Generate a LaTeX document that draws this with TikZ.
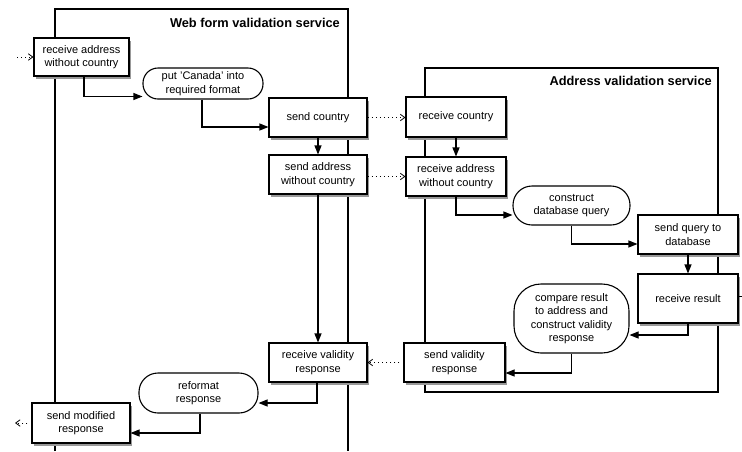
\documentclass[tikz,border=0pt]{standalone}
\usepackage{fontspec}
\setmainfont{Liberation Sans}
\usetikzlibrary{arrows.meta,calc,shadows}
\begin{document}
\begin{tikzpicture}[x=1pt,y=-1pt,
  base/.style={draw, line width=1.1pt, fill=white, align=center, inner sep=1pt,
    font=\fontsize{11}{13.5}\selectfont},
  box/.style={base, drop shadow={shadow xshift=1.5pt, shadow yshift=-3pt, fill=black!40, opacity=1}},
  rbox/.style={base},
  flow/.style={line width=1.1pt, -{Triangle[length=9pt,width=7pt]}},
  msg/.style={line width=0.9pt, dash pattern=on 0.9pt off 3.2pt, -{Straight Barb[length=4.5pt,width=6.5pt,line width=0.8pt]}},
  lane/.style={line width=1.1pt},
  lanetitle/.style={font=\bfseries\fontsize{12.8}{15}\selectfont, inner sep=0pt}]
\useasboundingbox[fill=white] (0,0) rectangle (742,451);

% swimlanes
\draw[lane] (55,451) -- (55,9) -- (348,9) -- (348,451);
\draw[lane] (425,68) rectangle (718,392);
\node[lanetitle, anchor=east] (t1) at (340,22.5) {Web form validation service};
\node[lanetitle, anchor=east] (t2) at (712,81) {Address validation service};

% web form nodes
\node[box, minimum width=95pt, minimum height=38pt] (ra1) at (81.5,57) {receive address\\without country};
\node[rbox, rounded corners=15pt, minimum width=120pt, minimum height=31pt] (canada) at (203,83.5) {put 'Canada' into\\required format};
\node[box, minimum width=98pt, minimum height=39pt] (sc) at (318,117.5) {send country};
\node[box, minimum width=98pt, minimum height=39pt] (sa) at (318,174.5) {send address\\without country};
\node[box, minimum width=98pt, minimum height=39pt] (rv) at (318,362.5) {receive validity\\response};
\node[rbox, rounded corners=19pt, minimum width=119pt, minimum height=40pt] (rf) at (198.5,393) {reformat\\response};
\node[box, minimum width=98pt, minimum height=40pt] (sm) at (81,423) {send modified\\response};

% address validation nodes
\node[box, minimum width=100pt, minimum height=40pt] (rc) at (456,117) {receive country};
\node[box, minimum width=100pt, minimum height=39pt] (ra2) at (456,176.5) {receive address\\without country};
\node[rbox, rounded corners=19pt, minimum width=117pt, minimum height=39pt] (cdq) at (571.5,205.5) {construct\\database query};
\node[box, minimum width=100pt, minimum height=39pt] (sq) at (688,234.5) {send query to\\database};
\node[box, minimum width=100pt, minimum height=49pt] (rr) at (688,298.5) {receive result};
\node[rbox, rounded corners=27pt, minimum width=115pt, minimum height=69pt] (cmp) at (571.5,318.5) {compare result\\to address and\\construct validity\\response};
\node[box, minimum width=101pt, minimum height=39pt] (sv) at (454.5,362.5) {send validity\\response};

% free ends
\coordinate (in) at (17,57);
\coordinate (out) at (15,423);
\coordinate (db) at (742,296);

% connectors
\draw[msg] (in) -- (ra1.west);
\draw[flow] ($(ra1.south)+(2.5,0)$) |- ($(canada.west)+(0,13)$);
\draw[flow] ($(canada.south)+(-1,0)$) |- ($(sc.west)+(0,9.5)$);
\draw[flow] (sc.south) -- (sa.north);
\draw[msg] (sc.east) -- (sc.east -| rc.west);
\draw[msg] (ra2.west -| sa.east) -- (ra2.west);
\draw[flow] (rc.south) -- (ra2.north);
\draw[flow] (ra2.south) |- ($(cdq.west)+(0,9.5)$);
\draw[flow] (cdq.south) |- ($(sq.west)+(0,9.5)$);
\draw[flow] (sq.south) -- (rr.north);
\draw[flow] (rr.south) |- ($(cmp.east)+(0,16.5)$);
\draw[flow] (cmp.south) |- ($(sv.east)+(0,10.5)$);
\draw[msg] (sv.west) -- (sv.west -| rv.east);
\draw[flow] (sa.south) -- (rv.north);
\draw[flow] ($(rv.south)+(-1,0)$) |- ($(rf.east)+(0,10)$);
\draw[flow] ($(rf.south)+(1.5,0)$) |- ($(sm.east)+(0,10)$);
\draw[msg] (sm.west) -- (out);
\draw[line width=0.8pt] (db) -- (rr.east |- db);
\end{tikzpicture}
\end{document}
